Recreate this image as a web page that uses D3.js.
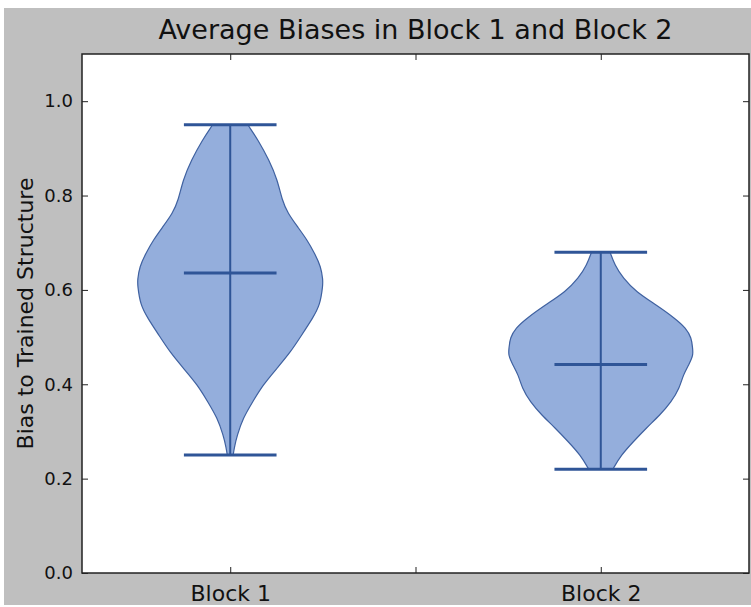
<!DOCTYPE html>
<html>
<head>
<meta charset="utf-8">
<script src="https://cdn.jsdelivr.net/npm/d3@7"></script>
<style>
  html, body { margin: 0; padding: 0; background: #ffffff; }
  svg { display: block; }
  text { font-family: "DejaVu Sans", sans-serif; fill: #111; }
</style>
</head>
<body>
<script>
// Violin chart data
const categories = ["Block 1", "Block 2"];
const positions = [1, 2];
const yTicks = [0.0, 0.2, 0.4, 0.6, 0.8, 1.0];

// kernel density profiles (value, relative density) per block
const block1Values = [0.95, 0.918, 0.875, 0.833, 0.79, 0.763, 0.733, 0.706, 0.678, 0.649, 0.621, 0.61, 0.568, 0.54, 0.504, 0.468, 0.435, 0.398, 0.362, 0.329, 0.292, 0.265, 0.25];
const block1Density = [0.19, 0.30, 0.42, 0.51, 0.56, 0.62, 0.73, 0.83, 0.91, 0.98, 1.0, 1.0, 0.97, 0.89, 0.77, 0.65, 0.51, 0.35, 0.24, 0.14, 0.075, 0.043, 0.032];
const block2Values = [0.68, 0.653, 0.625, 0.596, 0.568, 0.54, 0.519, 0.498, 0.477, 0.462, 0.441, 0.42, 0.392, 0.362, 0.335, 0.307, 0.278, 0.25, 0.22];
const block2Density = [0.10, 0.15, 0.24, 0.38, 0.60, 0.80, 0.92, 0.98, 0.99, 1.0, 0.95, 0.89, 0.85, 0.76, 0.64, 0.49, 0.35, 0.22, 0.13];

// summary statistics
const means = [0.636, 0.442];
const maxima = [0.95, 0.68];
const minima = [0.25, 0.22];

const W = 751, H = 607;
const violinWidth = 0.5;

const svg = d3.select("body").append("svg")
  .attr("width", W).attr("height", H);

// figure background
svg.append("rect").attr("x", 4).attr("y", 8).attr("width", W - 4).attr("height", H - 10)
  .attr("fill", "#bfbfbf");

const plotL = 82, plotR = 749, plotT = 54, plotB = 573;

const x = d3.scaleLinear().domain([0.6, 2.4]).range([plotL, plotR]);
const y = d3.scaleLinear().domain([0, 1.1]).range([plotB, plotT]);

// plot area
svg.append("rect").attr("x", plotL).attr("y", plotT)
  .attr("width", plotR - plotL).attr("height", plotB - plotT)
  .attr("fill", "#ffffff");

const fillColor = "#94aedc";
const edgeColor = "#3f61a0";
const lineColor = "#2f5597";

const profiles = [
  block1Values.map((v, i) => ({ v, d: block1Density[i] })),
  block2Values.map((v, i) => ({ v, d: block2Density[i] }))
];

const g = svg.append("g");

profiles.forEach((prof, k) => {
  const pos = positions[k];
  const maxD = d3.max(prof, p => p.d);
  const half = violinWidth / 2;
  const area = d3.area()
    .y(p => y(p.v))
    .x0(p => x(pos - half * p.d / maxD))
    .x1(p => x(pos + half * p.d / maxD))
    .curve(d3.curveBasis);
  g.append("path")
    .datum(prof)
    .attr("d", area)
    .attr("fill", fillColor)
    .attr("stroke", edgeColor)
    .attr("stroke-width", 1.2);

  const capHalf = violinWidth / 4;
  // extrema bars
  [maxima[k], minima[k]].forEach(val => {
    g.append("line")
      .attr("x1", x(pos - capHalf)).attr("x2", x(pos + capHalf))
      .attr("y1", y(val)).attr("y2", y(val))
      .attr("stroke", lineColor).attr("stroke-width", 3);
  });
  // mean bar
  g.append("line")
    .attr("x1", x(pos - capHalf)).attr("x2", x(pos + capHalf))
    .attr("y1", y(means[k])).attr("y2", y(means[k]))
    .attr("stroke", lineColor).attr("stroke-width", 3);
  // range line
  g.append("line")
    .attr("x1", x(pos)).attr("x2", x(pos))
    .attr("y1", y(maxima[k])).attr("y2", y(minima[k]))
    .attr("stroke", lineColor).attr("stroke-width", 2);
});

// axes: inward ticks on all four sides
const xTickVals = [1, 1.5, 2];
const xLabel = v => { const i = positions.indexOf(v); return i >= 0 ? categories[i] : ""; };

const axB = svg.append("g").attr("transform", `translate(0,${plotB})`)
  .call(d3.axisBottom(x).tickValues(xTickVals).tickFormat(xLabel).tickSizeInner(-6).tickSizeOuter(0).tickPadding(12));
const axT = svg.append("g").attr("transform", `translate(0,${plotT})`)
  .call(d3.axisTop(x).tickValues(xTickVals).tickFormat("").tickSizeInner(-6).tickSizeOuter(0));
const axL = svg.append("g").attr("transform", `translate(${plotL},0)`)
  .call(d3.axisLeft(y).tickValues(yTicks).tickFormat(d3.format(".1f")).tickSizeInner(-6).tickSizeOuter(0).tickPadding(9));
const axR = svg.append("g").attr("transform", `translate(${plotR},0)`)
  .call(d3.axisRight(y).tickValues(yTicks).tickFormat("").tickSizeInner(-6).tickSizeOuter(0));

[axB, axT, axL, axR].forEach(a => {
  a.select(".domain").remove();
  a.selectAll(".tick line").attr("stroke", "#222").attr("stroke-width", 1);
  a.selectAll("text").attr("fill", "#111").style("font-family", "DejaVu Sans, sans-serif");
});
axB.selectAll("text").style("font-size", "22px").attr("dy", "0.71em");
axL.selectAll("text").style("font-size", "18px");

// frame
svg.append("rect").attr("x", plotL).attr("y", plotT)
  .attr("width", plotR - plotL).attr("height", plotB - plotT)
  .attr("fill", "none").attr("stroke", "#222").attr("stroke-width", 1.5);

// title
svg.append("text")
  .attr("x", (plotL + plotR) / 2).attr("y", 39)
  .attr("text-anchor", "middle")
  .style("font-size", "27px")
  .text("Average Biases in Block 1 and Block 2");

// y label
svg.append("text")
  .attr("transform", `translate(33,${(plotT + plotB) / 2}) rotate(-90)`)
  .attr("text-anchor", "middle")
  .style("font-size", "22px")
  .text("Bias to Trained Structure");
</script>
</body>
</html>
